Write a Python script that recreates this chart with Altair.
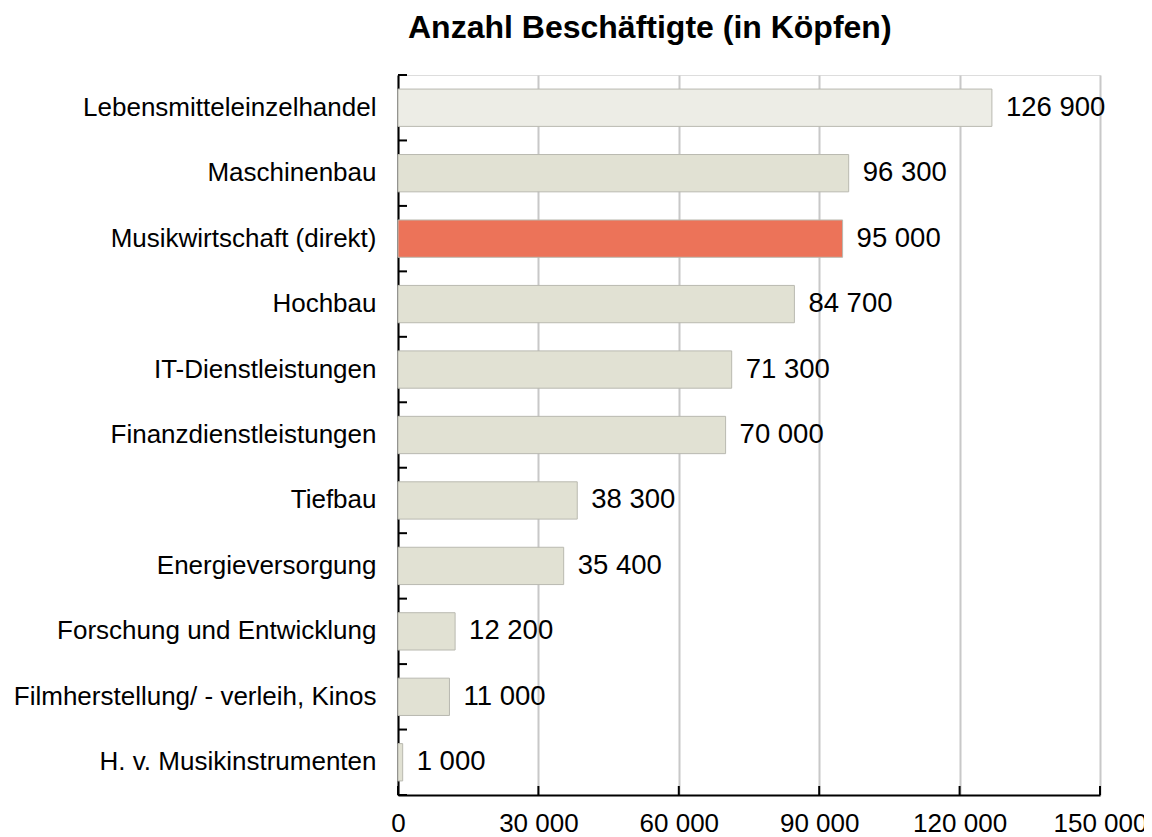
import altair as alt
import pandas as pd

categories = [
    "Lebensmitteleinzelhandel",
    "Maschinenbau",
    "Musikwirtschaft (direkt)",
    "Hochbau",
    "IT-Dienstleistungen",
    "Finanzdienstleistungen",
    "Tiefbau",
    "Energieversorgung",
    "Forschung und Entwicklung",
    "Filmherstellung/ - verleih, Kinos",
    "H. v. Musikinstrumenten",
]
values = [126900, 96300, 95000, 84700, 71300, 70000, 38300, 35400, 12200, 11000, 1000]
groups = ["top", "other", "music", "other", "other", "other", "other", "other", "other", "other", "other"]
x_ticks = [0, 30000, 60000, 90000, 120000, 150000]
band_edges = list(range(len(categories) + 1))

df = pd.DataFrame({
    "category": categories,
    "value": values,
    "group": groups,
    "label": [f"{v:,}".replace(",", " ") for v in values],
})
df_xt = pd.DataFrame({"tick": x_ticks})
df_yt = pd.DataFrame({"edge": band_edges})

FONT = "Liberation Sans"
FS = 26

y_scale = alt.Scale(paddingInner=0.43, paddingOuter=0.215)
x_scale = alt.Scale(domain=[0, 150000], nice=False)

color_scale = alt.Scale(domain=["top", "other", "music"], range=["#EDEDE6", "#E1E1D3", "#EC7359"])

bars = alt.Chart(df).mark_bar(stroke="#B9B9B0", strokeWidth=1).encode(
    y=alt.Y("category:N", sort=categories, scale=y_scale, title=None,
            axis=alt.Axis(orient="left", domain=True, domainColor="black", domainWidth=2, ticks=False,
                          labelFont=FONT, labelFontSize=FS, labelColor="black",
                          labelPadding=22, labelLimit=500, grid=False)),
    x=alt.X("value:Q", scale=x_scale, title=None,
            axis=alt.Axis(orient="bottom", values=x_ticks, format=",d", domain=True, domainColor="black",
                          domainWidth=2, ticks=False, grid=True, gridColor="#C8C8C8",
                          gridWidth=2, labelFont=FONT, labelFontSize=FS, labelColor="black",
                          labelPadding=15, labelFlush=False)),
    color=alt.Color("group:N", scale=color_scale, legend=None),
)

text = alt.Chart(df).mark_text(align="left", baseline="middle", dx=14, font=FONT,
                               fontSize=27.5, color="black").encode(
    y=alt.Y("category:N", sort=categories, scale=y_scale, axis=None),
    x=alt.X("value:Q", scale=x_scale),
    text="label:N",
)

# inward tick marks on the x axis
xticks = alt.Chart(df_xt).mark_rule(color="black", strokeWidth=2).encode(
    x=alt.X("tick:Q", scale=x_scale),
    y=alt.value(711),
    y2=alt.value(720),
)

# inward tick marks on the y axis, at the band boundaries
yticks = alt.Chart(df_yt).mark_rule(color="black", strokeWidth=2).encode(
    y=alt.Y("edge:Q", scale=alt.Scale(domain=[0, len(categories)], nice=False, zero=False), axis=None),
    x=alt.value(0),
    x2=alt.value(9),
)

chart = alt.layer(bars, text, xticks, yticks).resolve_scale(y="independent").properties(
    width=702,
    height=720,
    autosize=alt.AutoSizeParams(type="none"),
    padding={"left": 390, "top": 67, "right": 44, "bottom": 60},
    title=alt.TitleParams(
        text="Anzahl Beschäftigte  (in Köpfen)",
        anchor="start", frame="group", dx=10, offset=4, baseline="alphabetic",
        font=FONT, fontSize=32, fontWeight="bold", color="black",
    ),
).configure_view(stroke=None).configure(
    locale={"number": {"decimal": ",", "thousands": " ", "grouping": [3], "currency": ["", " €"]}}
)

chart.save("out.html", embed_options={"renderer": "svg", "actions": False})
